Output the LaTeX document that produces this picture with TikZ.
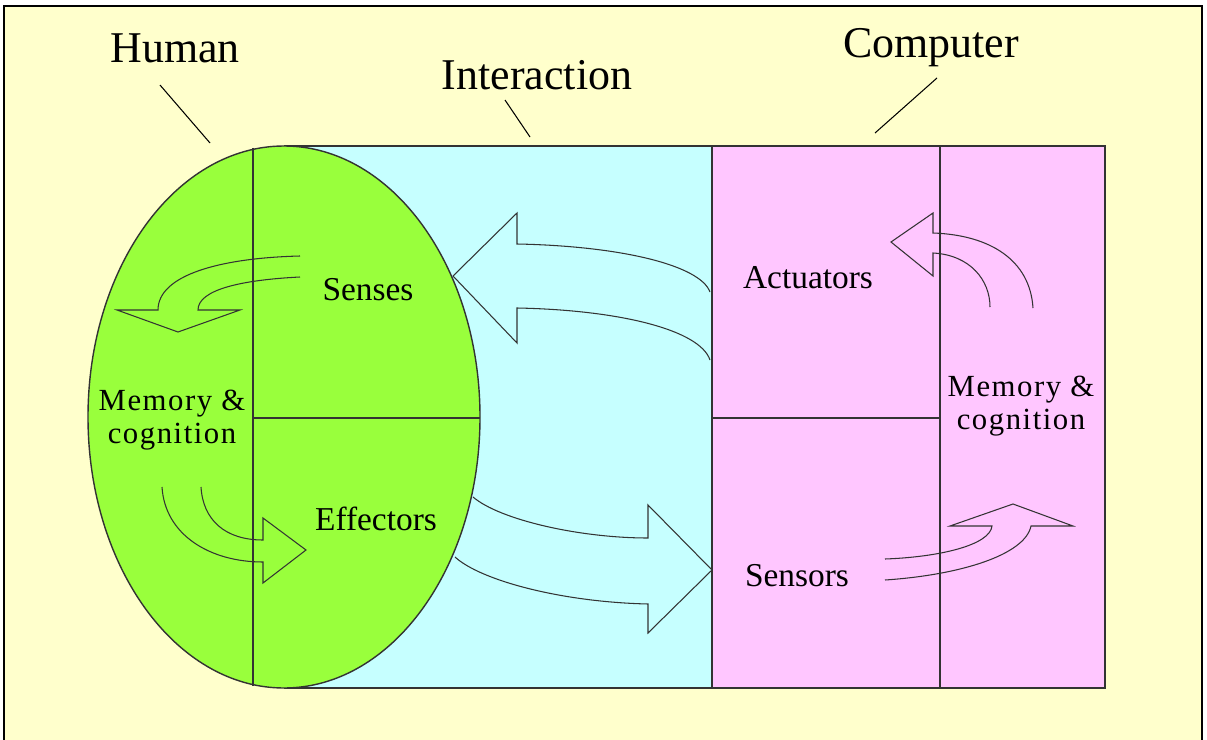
\documentclass[tikz,border=0pt]{standalone}
\usepackage{fontspec}
\setmainfont{Liberation Serif}
\newfontfamily\spacedserif[LetterSpace=5]{Liberation Serif}
\definecolor{bgyellow}{HTML}{FFFFCC}
\definecolor{hgreen}{HTML}{99FF3C}
\definecolor{icyan}{HTML}{C6FFFF}
\definecolor{cpink}{HTML}{FFC6FF}
\definecolor{linegray}{HTML}{333333}
\tikzset{
  title/.style={font=\fontsize{25}{30}\selectfont, inner sep=0pt},
  lbl/.style={font=\fontsize{19}{22}\selectfont, inner sep=0pt},
  memlbl/.style={font=\spacedserif\fontsize{17.5}{18.8}\selectfont, align=center, inner sep=0pt},
  frame/.style={draw=linegray, line width=0.8pt},
  blockarrow/.style={draw=linegray, line width=0.6pt, line join=miter},
  leader/.style={draw=black, line width=0.6pt}
}
\begin{document}
\begin{tikzpicture}[x=0.02cm, y=-0.02cm]
\useasboundingbox (0,0) rectangle (1207,740);
\fill[white] (0,0) rectangle (1207,740);
\fill[bgyellow] (4,6) rectangle (1202,740);
\draw[line width=1.6pt] (4,740) -- (4,6) -- (1202,6) -- (1202,740);

% interaction region
\fill[icyan] (284,146) rectangle (712,688);
\draw[frame] (284,146) -- (712,146);
\draw[frame] (284,688) -- (712,688);
% computer region
\fill[cpink] (712,146) rectangle (1105,688);
\draw[frame] (712,146) rectangle (1105,688);
\draw[frame] (940,146) -- (940,688);
\draw[frame] (712,418) -- (940,418);
% human ellipse
\draw[frame, fill=hgreen] (284,417) ellipse [x radius=196, y radius=271];
\draw[frame] (253,148) -- (253,686);
\draw[frame] (253,418) -- (480,418);

% titles
\node[title] (human) at (175,48) {Human};
\node[title] (inter) at (537,75) {Interaction};
\node[title] (comp) at (931,48) {Computer};
\coordinate (humanA) at (160,85);
\coordinate (humanB) at (210,143);
\coordinate (interA) at (505,100);
\coordinate (interB) at (530,137);
\coordinate (compA) at (937,78);
\coordinate (compB) at (875,133);
\draw[leader] (humanA) -- (humanB);
\draw[leader] (interA) -- (interB);
\draw[leader] (compA) -- (compB);

% labels
\node[lbl] (senses) at (368,290) {Senses};
\node[lbl] (effectors) at (376,519) {Effectors};
\node[lbl] (actuators) at (808,278) {Actuators};
\node[lbl] (sensors) at (797,576) {Sensors};
\node[memlbl] (hmem) at (172,420) {Memory \&\\cognition};
\node[memlbl] (cmem) at (1021,406) {Memory \&\\cognition};

% arrow: senses -> memory (human)
\draw[blockarrow] (300,256) .. controls (220,258) and (158,275) .. (158,310)
  -- (117,310) -- (178,332) -- (240,310) -- (198,310)
  .. controls (198,290) and (240,280) .. (300,277);
% arrow: memory -> effectors (human)
\draw[blockarrow] (162,487) .. controls (165,535) and (210,562) .. (263,562)
  -- (263,583) -- (306,550) -- (263,518) -- (263,540)
  .. controls (225,540) and (203,520) .. (201,487);
% arrow: actuators -> senses
\draw[blockarrow] (710,292) .. controls (700,265) and (620,246) .. (517,244)
  -- (517,213) -- (453,276) -- (517,343) -- (517,308)
  .. controls (620,310) and (700,330) .. (710,360);
% arrow: effectors -> sensors
\draw[blockarrow] (473,497) .. controls (500,520) and (580,538) .. (648,538)
  -- (648,505) -- (712,570) -- (648,633) -- (648,604)
  .. controls (560,602) and (480,580) .. (455,557);
% arrow: computer memory -> actuators
\draw[blockarrow] (1033,308) .. controls (1030,260) and (990,235) .. (933,233)
  -- (933,213) -- (891,242) -- (933,276) -- (933,253)
  .. controls (970,255) and (990,280) .. (990,307);
% arrow: sensors -> computer memory
\draw[blockarrow] (885,580) .. controls (960,575) and (1025,555) .. (1031,526)
  -- (1073,526) -- (1013,504) -- (950,526) -- (992,526)
  .. controls (990,545) and (940,557) .. (885,559);
\end{tikzpicture}
\end{document}
